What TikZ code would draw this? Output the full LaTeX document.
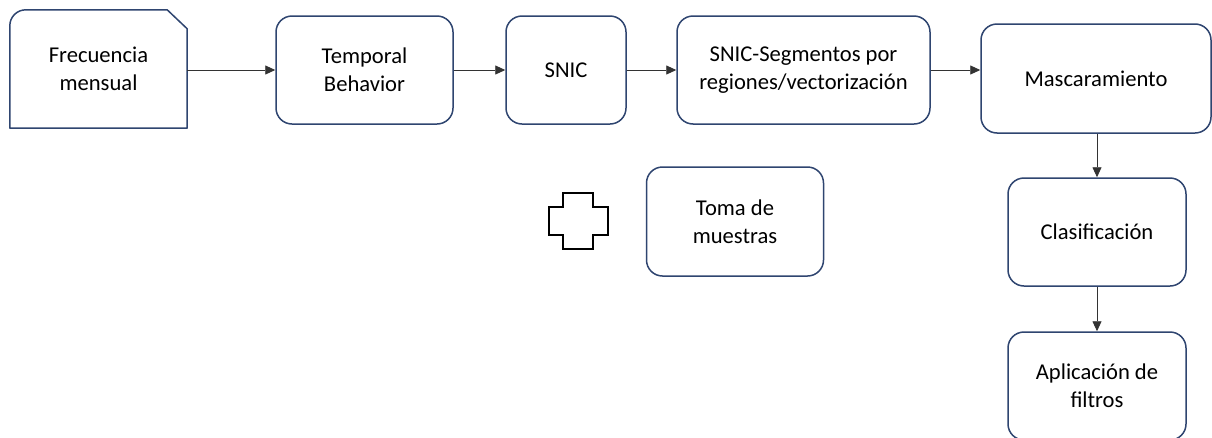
\documentclass[tikz,border=0pt]{standalone}
\usepackage{fontspec}
\setmainfont{Carlito}
\usetikzlibrary{arrows.meta}
\definecolor{boxline}{HTML}{2F4570}
\definecolor{arrowc}{HTML}{333333}
\begin{document}
\begin{tikzpicture}[x=1pt,y=-1pt,
  txt/.style={align=center, font=\fontsize{22.6}{27.7}\selectfont, inner sep=0pt},
  box/.style={txt, draw=boxline, line width=1.5pt, rounded corners=16pt},
  conn/.style={draw=arrowc, line width=0.9pt, -{Triangle[length=10pt,width=9pt]}},
  outline/.style={draw=boxline, line width=1.5pt}]
\useasboundingbox (0,0) rectangle (1212,437);
\fill[white] (0,0) rectangle (1212,437);
% first (snipped) box
\node[txt, minimum width=177pt, minimum height=118pt] (frec) at (98.5,69) {Frecuencia\\mensual};
\coordinate (snipA) at ([xshift=-20pt]frec.north east);
\coordinate (snipB) at ([yshift=-19pt]frec.north east);
\draw[outline, line join=round] (frec.south west) -- ([yshift=-16pt]frec.north west)
  to[out=90,in=180] ([xshift=16pt]frec.north west) -- (snipA) -- (snipB) -- (frec.south east) -- cycle;
% rounded boxes
\node[box, minimum width=177pt, minimum height=108pt] (temp) at (364.5,70) {Temporal\\Behavior};
\node[box, minimum width=120pt, minimum height=108pt] (snic) at (566,70) {SNIC};
\node[box, minimum width=253pt, minimum height=108pt] (seg) at (803.5,70) {SNIC-Segmentos por\\regiones/vectorización};
\node[box, minimum width=230pt, minimum height=109pt] (masc) at (1096,78.5) {Mascaramiento};
\node[box, minimum width=178pt, minimum height=108pt] (clas) at (1097,232) {Clasificación};
\node[box, minimum width=178pt, minimum height=108pt] (apl) at (1097,386) {Aplicación de\\filtros};
\node[box, minimum width=177pt, minimum height=109pt] (toma) at (735,221.5) {Toma de\\muestras};
% cross shape
\draw[black, line width=1.5pt] (563,193) -- (593,193) -- (593,207) -- (608,207) -- (608,235) -- (593,235) -- (593,249) -- (563,249) -- (563,235) -- (549,235) -- (549,207) -- (563,207) -- cycle;
% connectors
\draw[conn] (temp.west -| frec.east) -- (temp.west);
\draw[conn] (temp.east) -- (snic.west);
\draw[conn] (snic.east) -- (seg.west);
\draw[conn] (seg.east) -- (seg.east -| masc.west);
\draw[conn] (masc.south -| clas.north) -- (clas.north);
\draw[conn] (clas.south) -- (apl.north);
\end{tikzpicture}
\end{document}
